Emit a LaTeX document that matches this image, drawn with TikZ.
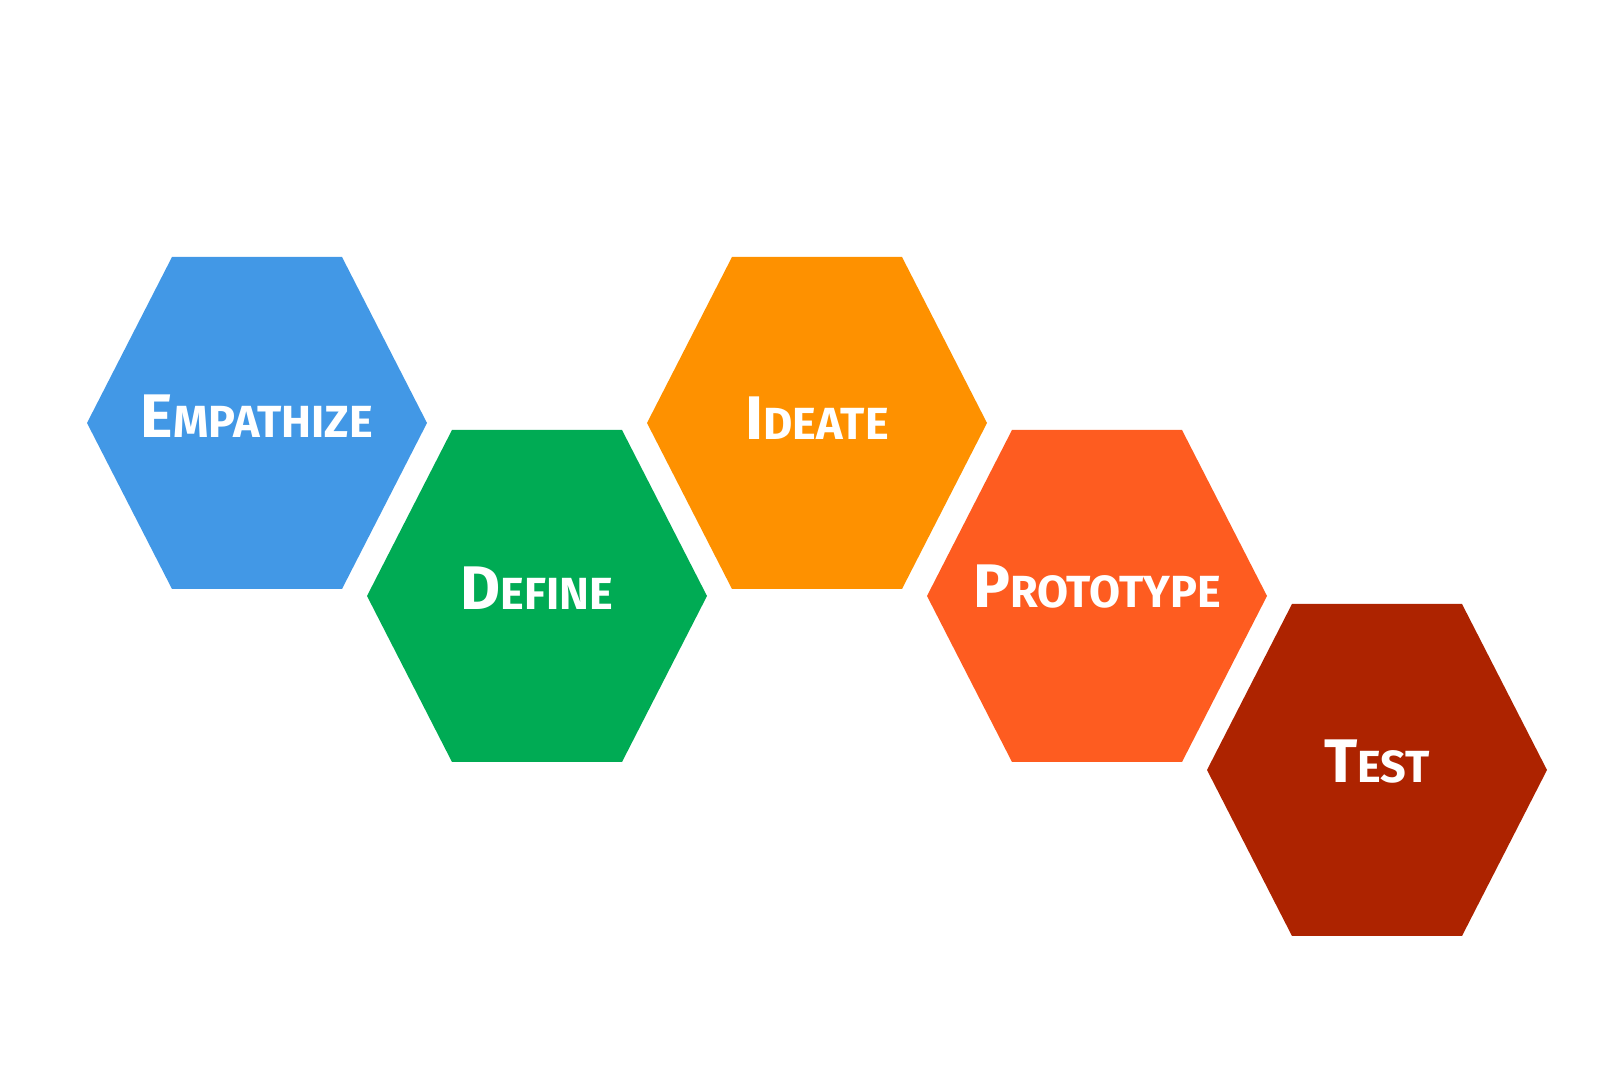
\documentclass[tikz,border=0pt]{standalone}
\usepackage{fontspec}
\setmainfont{Fira Sans}

\definecolor{empblue}{RGB}{66,152,230}
\definecolor{defgreen}{RGB}{0,171,84}
\definecolor{ideorange}{RGB}{254,145,0}
\definecolor{protored}{RGB}{254,92,32}
\definecolor{testred}{RGB}{173,35,0}

% flat-topped hexagon around a centre
\newcommand{\hexcell}[1]{(#1) ++(-170,0) -- ++(85,-166) -- ++(170,0) -- ++(85,166) -- ++(-85,166) -- ++(-170,0) -- cycle}
% small-caps word: big first letter, smaller rest
\newcommand{\phaselabel}[2]{{\fontsize{17.5}{20}\selectfont #1}{\fontsize{12.8}{15}\selectfont #2}}

\tikzset{
	phase/.style={text=white, font=\bfseries, anchor=base, inner sep=0pt}
}

\begin{document}
\begin{tikzpicture}[x=0.01cm, y=-0.01cm]
		
		\useasboundingbox (0,0) rectangle (1620,1080);
		
		% Draw the five hexagons
		\fill[empblue] \hexcell{257,423};
		\fill[defgreen] \hexcell{537,596};
		\fill[ideorange] \hexcell{817,423};
		\fill[protored] \hexcell{1097,596};
		\fill[testred] \hexcell{1377,770};
		
		% Labels for the phases
		\node[phase] (empathize) at (257,438) {\phaselabel{E}{MPATHIZE}};
		\node[phase] (define) at (537,610) {\phaselabel{D}{EFINE}};
		\node[phase] (ideate) at (817,440) {\phaselabel{I}{DEATE}};
		\node[phase] (prototype) at (1097,608) {\phaselabel{P}{ROTOTYPE}};
		\node[phase] (test) at (1377,783) {\phaselabel{T}{EST}};
		
	\end{tikzpicture}
\end{document}
